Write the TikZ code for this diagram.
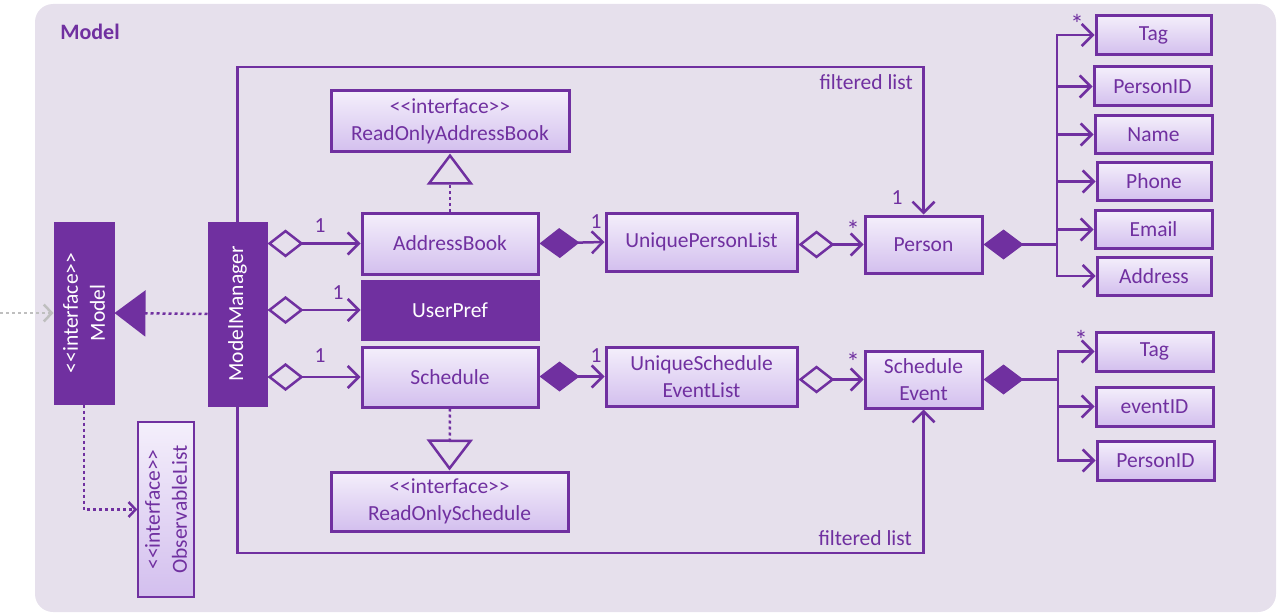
\documentclass[tikz,border=0pt]{standalone}
\usepackage{fontspec}
\setmainfont{Carlito}
\usetikzlibrary{arrows.meta}
\definecolor{umlpurple}{HTML}{7030A0}
\definecolor{umlbg}{HTML}{E6E0EC}
\definecolor{boxtop}{HTML}{F4EFFB}
\definecolor{boxbot}{HTML}{D3BFEE}
\definecolor{extgray}{HTML}{BFBFBF}
\newcommand{\umlfont}{\fontsize{21.5}{27}\selectfont}
\newcommand{\intf}{<{}<interface>{}>}
\tikzset{
  cls/.style={draw=umlpurple, line width=3pt, top color=boxtop, bottom color=boxbot,
    text=umlpurple, align=center, inner sep=0pt, font=\umlfont},
  solidcls/.style={draw=umlpurple, line width=3pt, fill=umlpurple, text=white,
    align=center, inner sep=0pt, font=\umlfont},
  lbl/.style={text=umlpurple, inner sep=0pt, font=\umlfont},
  star/.style={text=umlpurple, inner sep=0pt, font=\fontsize{27}{30}\selectfont},
  link/.style={draw=umlpurple, line width=2.5pt},
  barb/.tip={Straight Barb[length=11pt,width=22pt]},
  assoc/.style={link, -barb},
  agg/.style={link, {Diamond[open,length=36pt,width=28pt]}-barb},
  comp/.style={link, {Diamond[length=40pt,width=30pt]}-barb},
  dots/.style={dash pattern=on 3pt off 3pt},
  realize/.style={link, dots, -{Triangle[open,length=31pt,width=46pt]}},
}
\begin{document}
\begin{tikzpicture}[x=1pt,y=-1pt]
	\useasboundingbox (0,0) rectangle (1280,615);
	\fill[umlbg, rounded corners=18pt] (35,4) rectangle (1276,612);
	\node[text=umlpurple, font=\fontsize{22}{26}\selectfont\bfseries] (title) at (90,32) {Model};

	% left column
	\node[solidcls, rotate=90, minimum width=180pt, minimum height=58pt] (model) at (84,313) {\intf\\Model};
	\node[solidcls, rotate=90, minimum width=182pt, minimum height=57pt] (mm) at (237.5,314) {ModelManager};
	\node[cls, line width=1.5pt, rotate=90, minimum width=175pt, minimum height=56pt] (obs) at (166,509.5) {\intf\\ObservableList};
	\coordinate (ext) at (0,313);

	% books and schedules
	\node[cls, minimum width=238pt, minimum height=61pt] (roab) at (450,121.5) {\intf\\ReadOnlyAddressBook};
	\node[cls, minimum width=176pt, minimum height=61pt] (ab) at (450,243.5) {AddressBook};
	\node[solidcls, minimum width=176pt, minimum height=58pt] (up) at (450,310) {UserPref};
	\node[cls, minimum width=176pt, minimum height=60pt] (sched) at (450,377) {Schedule};
	\node[cls, minimum width=237pt, minimum height=59pt] (ros) at (449.5,501.5) {\intf\\ReadOnlySchedule};
	\node[cls, minimum width=191pt, minimum height=58pt] (upl) at (701.5,242) {UniquePersonList};
	\node[cls, minimum width=191pt, minimum height=59pt] (usel) at (701.5,376.5) {UniqueSchedule\\EventList};
	\node[cls, minimum width=117pt, minimum height=57pt] (person) at (923.5,244.5) {Person};
	\node[cls, minimum width=117pt, minimum height=57pt] (sevent) at (923.5,379.5) {Schedule\\Event};

	% attributes
	\node[cls, minimum width=115pt, minimum height=39pt] (tag) at (1153.5,35) {Tag};
	\node[cls, minimum width=117pt, minimum height=39pt] (pid) at (1152.5,86.5) {PersonID};
	\node[cls, minimum width=117pt, minimum height=38pt] (name) at (1153.5,134.5) {Name};
	\node[cls, minimum width=114pt, minimum height=38pt] (phone) at (1154,181.5) {Phone};
	\node[cls, minimum width=117pt, minimum height=38pt] (email) at (1153.5,229.5) {Email};
	\node[cls, minimum width=114pt, minimum height=38pt] (addr) at (1154,276) {Address};
	\node[cls, minimum width=117pt, minimum height=39pt] (stag) at (1154.5,351.5) {Tag};
	\node[cls, minimum width=117pt, minimum height=39pt] (eid) at (1154.5,406.5) {eventID};
	\node[cls, minimum width=117pt, minimum height=39pt] (spid) at (1155.5,460.5) {PersonID};
	\coordinate (pjunc) at (1057,244.5);
	\coordinate (sjunc) at (1058,379.5);
	\coordinate (ftop) at (0,67);
	\coordinate (fbot) at (0,553);

	% connectors
	\draw[extgray, line width=2.5pt, dots, -{Straight Barb[length=8pt,width=17pt]}] (ext) -- (model.north);
	\draw[link, dots, -{Triangle[length=31pt,width=46pt]}] (mm.north) -- (model.south);
	\draw[link, dots, -{Straight Barb[length=7pt,width=15pt]}] (model.west) |- (obs.north);
	\draw[agg] (mm.south |- ab) -- (ab.west);
	\draw[agg] (mm.south |- up) -- (up.west);
	\draw[agg] (mm.south |- sched) -- (sched.west);
	\draw[realize] (ab.north) -- (roab.south);
	\draw[realize] (sched.south) -- (ros.north);
	\draw[comp] (ab.east) -- (upl.west);
	\draw[comp] (sched.east |- usel) -- (usel.west);
	\draw[agg] (upl.east |- person) -- (person.west);
	\draw[agg] (usel.east |- sevent) -- (sevent.west);
	\draw[assoc] (mm.east) |- (person.north |- ftop) -- (person.north);
	\draw[assoc] (mm.west) |- (sevent.south |- fbot) -- (sevent.south);
	\draw[link, {Diamond[length=40pt,width=30pt]}-] (person.east) -- (pjunc);
	\foreach \a in {tag,pid,name,phone,email,addr}
		\draw[assoc] (pjunc) |- (\a.west);
	\draw[link, {Diamond[length=40pt,width=30pt]}-] (sevent.east) -- (sjunc);
	\foreach \a in {stag,eid,spid}
		\draw[assoc] (sjunc) |- (\a.west);

	% multiplicities
	\node[lbl] (m1) at (320,226) {1};
	\node[lbl] (m2) at (338,293) {1};
	\node[lbl] (m3) at (320,356) {1};
	\node[lbl] (m4) at (596,222) {1};
	\node[lbl] (m5) at (596,356) {1};
	\node[lbl] (m6) at (897,198) {1};
	\node[star] (s1) at (853,230) {*};
	\node[star] (s2) at (853,362) {*};
	\node[star] (s3) at (1077,24) {*};
	\node[star] (s4) at (1081,340) {*};
	\node[lbl, anchor=east] (fl1) at (913,82) {filtered list};
	\node[lbl, anchor=east] (fl2) at (912,538) {filtered list};
\end{tikzpicture}
\end{document}
